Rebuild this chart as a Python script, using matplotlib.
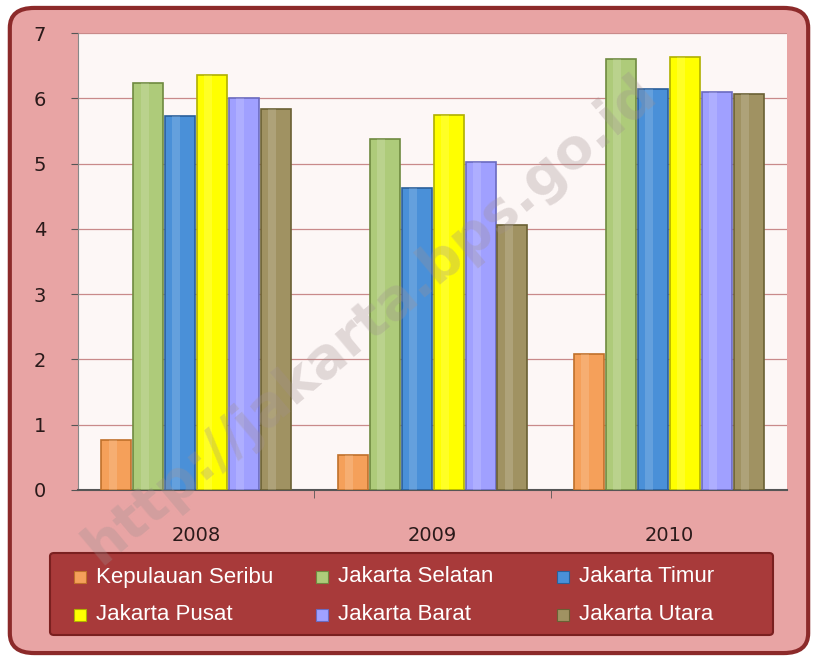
import numpy as np
import matplotlib.pyplot as plt
from matplotlib.patches import FancyBboxPatch, Rectangle

years = ['2008', '2009', '2010']
regions = ['Kepulauan Seribu', 'Jakarta Selatan', 'Jakarta Timur',
           'Jakarta Pusat', 'Jakarta Barat', 'Jakarta Utara']
kep_seribu = [0.77, 0.54, 2.08]
jak_selatan = [6.24, 5.38, 6.60]
jak_timur = [5.73, 4.63, 6.15]
jak_pusat = [6.36, 5.75, 6.64]
jak_barat = [6.00, 5.03, 6.10]
jak_utara = [5.84, 4.06, 6.06]
series = [kep_seribu, jak_selatan, jak_timur, jak_pusat, jak_barat, jak_utara]

colors = ['#f5a05a', '#aecb7a', '#4a90d8', '#ffff00', '#a0a0ff', '#a09262']
edges = ['#c0702a', '#6f8a40', '#2a5f9a', '#b0b000', '#6a6ac0', '#6a6034']

fig = plt.figure(figsize=(8.18, 6.61), dpi=100)
fig.patch.set_facecolor('white')

# outer pink panel
outer = FancyBboxPatch((0.012, 0.012), 0.976, 0.976,
                       boxstyle='round,pad=0,rounding_size=0.03',
                       transform=fig.transFigure, facecolor='#e8a4a4',
                       edgecolor='#8c2a2a', linewidth=3, zorder=-2)
fig.patches.append(outer)

ax = fig.add_axes([0.0954, 0.2587, 0.867, 0.6913])
ax.set_zorder(1)
ax.set_facecolor('#fdf7f6')

n = len(series)
group_w = 0.81
bw = group_w / n
x = np.arange(len(years))
for i, vals in enumerate(series):
    pos = x - group_w / 2 + bw * (i + 0.5)
    ax.bar(pos, vals, width=bw * 0.94, color=colors[i], edgecolor=edges[i],
           linewidth=1.2, zorder=3, label=regions[i])
    # shine stripe
    ax.bar(pos - bw * 0.12, vals, width=bw * 0.25, color='white', alpha=0.15,
           linewidth=0, zorder=4)

ax.set_xlim(-0.5, 2.5)
ax.set_ylim(0, 7)
ax.set_yticks(range(0, 8))
ax.yaxis.grid(True, color='#c98a8a', linewidth=0.9, zorder=1)
ax.set_xticks(x)
ax.set_xticklabels(years)
ax.set_xticks([0.5, 1.5], minor=True)
ax.tick_params(axis='x', which='major', length=0, pad=26, labelsize=14, labelcolor='#2a1a1a')
ax.tick_params(axis='x', which='minor', length=6, color='#555555', direction='out')
ax.tick_params(axis='y', length=5, color='#555555', labelsize=14, labelcolor='#2a1a1a', pad=18)
for s in ['top', 'right']:
    ax.spines[s].set_visible(False)
ax.spines['left'].set_color('#888888')
ax.spines['bottom'].set_color('#555555')
ax.spines['bottom'].set_linewidth(1.5)

# legend panel
lg = FancyBboxPatch((50 / 818, 1 - 635 / 661), 723 / 818, 82 / 661,
                    boxstyle='round,pad=0,rounding_size=0.005',
                    transform=fig.transFigure, facecolor='#a83a3a',
                    edgecolor='#7a2020', linewidth=1.5, zorder=1)
fig.patches.append(lg)
col_x = [80, 322, 563]
row_y = [577, 615]
for i, name in enumerate(regions):
    cx = col_x[i % 3]
    cy = row_y[i // 3]
    fig.patches.append(Rectangle(((cx - 6) / 818, 1 - (cy + 6) / 661), 12 / 818, 12 / 661,
                                 transform=fig.transFigure, facecolor=colors[i],
                                 edgecolor=edges[i], linewidth=0.8, zorder=2))
    fig.text((cx + 16) / 818, 1 - cy / 661, name, color='white', fontsize=16,
             va='center', ha='left', family=['Liberation Sans', 'DejaVu Sans'], zorder=3)

# watermark
fig.text(370 / 818, 1 - 320 / 661, 'http://jakarta.bps.go.id', fontsize=40,
         fontweight='bold', color='#a09090', alpha=0.3, rotation=40,
         ha='center', va='center', zorder=10)

fig.savefig('out.png', dpi=100, facecolor=fig.get_facecolor())
